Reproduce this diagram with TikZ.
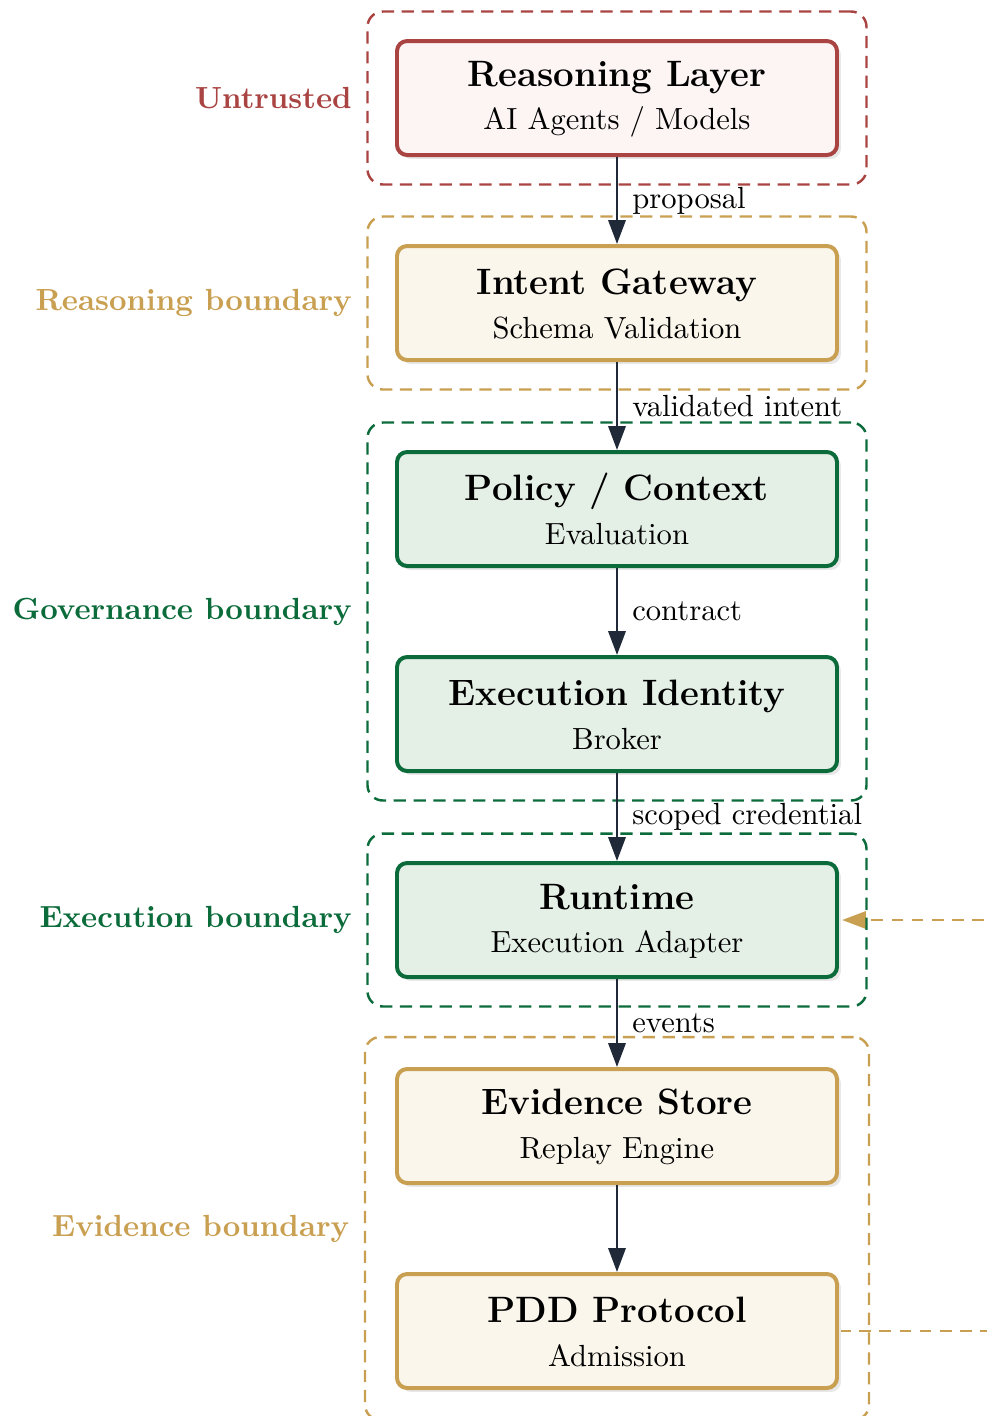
\documentclass[tikz,border=0pt]{standalone}
\usetikzlibrary{arrows.meta,shadows,fit,calc}

\definecolor{untrusted}{HTML}{A94442}
\definecolor{untrustedfill}{HTML}{FDF4F4}
\definecolor{gold}{HTML}{C9A052}
\definecolor{goldfill}{HTML}{FAF6EB}
\definecolor{govgreen}{HTML}{0B6B3A}
\definecolor{govfill}{HTML}{E4EFE6}
\definecolor{flow}{HTML}{1F2937}

\newcommand\pxu{0.327pt}

\pgfdeclarelayer{bg}
\pgfdeclarelayer{frames}
\pgfsetlayers{bg,frames,main}

\tikzset{
  stage/.style={draw, rounded corners=3.3pt, line width=1.3pt,
    minimum width={440*\pxu}, minimum height={114*\pxu}, inner sep=0pt,
    drop shadow={shadow xshift=1.3pt, shadow yshift=-1.3pt, fill=black!9, opacity=1}},
  redstage/.style={stage, draw=untrusted, fill=untrustedfill},
  goldstage/.style={stage, draw=gold, fill=goldfill},
  greenstage/.style={stage, draw=govgreen, fill=govfill},
  title/.style={anchor=base, inner sep=0pt, font=\fontsize{12}{14}\selectfont\bfseries},
  subtitle/.style={anchor=base, inner sep=0pt, font=\fontsize{10}{12}\selectfont},
  zone/.style={draw, dash pattern=on 4pt off 2.5pt, line width=0.8pt,
    rounded corners=5pt, inner sep={27.5*\pxu}},
  zonelabel/.style={anchor=east, inner sep=0pt, font=\fontsize{10}{12}\selectfont\bfseries},
  flowarrow/.style={draw=flow, line width=0.9pt,
    -{Triangle[length=7.8pt, width=5.6pt]}, fill=flow},
  edgelabel/.style={midway, anchor=west, inner sep=0pt, xshift={14*\pxu},
    font=\fontsize{10}{12}\selectfont, text=black},
  feedback/.style={draw=gold, line width=0.9pt, dash pattern=on 3.8pt off 2.8pt},
}

\begin{document}
\begin{tikzpicture}[x=\pxu, y=-\pxu]
  \useasboundingbox (0,0) rectangle (987,1416);
  \clip (0,0) rectangle (987,1416);

  % pipeline stages
  \node[redstage]   (reason)   at (617,98)   {};
  \node[goldstage]  (gateway)  at (617,303)  {};
  \node[greenstage] (policy)   at (617,509)  {};
  \node[greenstage] (identity) at (617,714)  {};
  \node[greenstage] (runtime)  at (617,920)  {};
  \node[goldstage]  (evidence) at (617,1126) {};
  \node[goldstage]  (pdd)      at (617,1331) {};

  % stage titles and subtitles
  \node[title]    (reasonT)   at (617,86)   {Reasoning Layer};
  \node[subtitle] (reasonS)   at (617,129)  {AI Agents / Models};
  \node[title]    (gatewayT)  at (617,294)  {Intent Gateway};
  \node[subtitle] (gatewayS)  at (617,338)  {Schema Validation};
  \node[title]    (policyT)   at (617,500)  {Policy / Context};
  \node[subtitle] (policyS)   at (617,544)  {Evaluation};
  \node[title]    (identityT) at (617,705)  {Execution Identity};
  \node[subtitle] (identityS) at (617,749)  {Broker};
  \node[title]    (runtimeT)  at (617,909)  {Runtime};
  \node[subtitle] (runtimeS)  at (617,952)  {Execution Adapter};
  \node[title]    (evidenceT) at (617,1114) {Evidence Store};
  \node[subtitle] (evidenceS) at (617,1158) {Replay Engine};
  \node[title]    (pddT)      at (617,1322) {PDD Protocol};
  \node[subtitle] (pddS)      at (617,1366) {Admission};

  % trust boundaries
  \begin{pgfonlayer}{frames}
    \node[zone, draw=untrusted, fit=(reason)] (zUntrusted) {};
    \node[zone, draw=gold, fit=(gateway)] (zReasoning) {};
    \node[zone, draw=govgreen, fit=(policy)(identity)] (zGovernance) {};
    \node[zone, draw=govgreen, fit=(runtime)] (zExecution) {};
    \node[zone, draw=gold, inner xsep={30*\pxu}, inner ysep={30*\pxu},
          fit=(evidence)(pdd)] (zEvidence) {};
  \end{pgfonlayer}

  \node[zonelabel, text=untrusted] (lUntrusted)  at ($(zUntrusted.west)+(-14,0)$)  {Untrusted};
  \node[zonelabel, text=gold]      (lReasoning)  at ($(zReasoning.west)+(-14,0)$)  {Reasoning boundary};
  \node[zonelabel, text=govgreen]  (lGovernance) at ($(zGovernance.west)+(-14,0)$) {Governance boundary};
  \node[zonelabel, text=govgreen]  (lExecution)  at ($(zExecution.west)+(-14,0)$)  {Execution boundary};
  \node[zonelabel, text=gold]      (lEvidence)   at ($(zEvidence.west)+(-14,0)$)   {Evidence boundary};

  % main flow
  \draw[flowarrow] (reason)   -- node[edgelabel] {proposal} (gateway);
  \draw[flowarrow] (gateway)  -- node[edgelabel] {validated intent} (policy);
  \draw[flowarrow] (policy)   -- node[edgelabel] {contract} (identity);
  \draw[flowarrow] (identity) -- node[edgelabel] {scoped credential} (runtime);
  \draw[flowarrow] (runtime)  -- node[edgelabel] {events} (evidence);
  \draw[flowarrow] (evidence) -- (pdd);

  % admission feedback loop back to the runtime
  \begin{pgfonlayer}{bg}
    \coordinate (loopR) at (1150,1331);
    \draw[feedback, -{Triangle[length=7.8pt, width=5.6pt]}, shorten >=1pt]
      (pdd.east) -- (loopR) |- (runtime.east);
  \end{pgfonlayer}
\end{tikzpicture}
\end{document}
